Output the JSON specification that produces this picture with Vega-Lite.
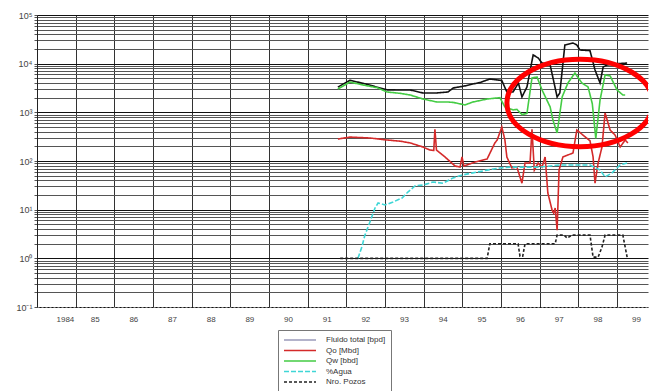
{
  "$schema": "https://vega.github.io/schema/vega-lite/v6.json",
  "width": 611,
  "height": 292,
  "autosize": "none",
  "padding": {"left": 37, "top": 15, "right": 2, "bottom": 84},
  "background": "white",
  "config": {"view": {"stroke": null}, "font": "Liberation Sans"},
  "datasets": {
    "series": [
      {"series": "Fluido total [bpd]", "year": 1991.78, "value": 3300},
      {"series": "Fluido total [bpd]", "year": 1992.09, "value": 4550},
      {"series": "Fluido total [bpd]", "year": 1992.43, "value": 3950},
      {"series": "Fluido total [bpd]", "year": 1993.05, "value": 2900},
      {"series": "Fluido total [bpd]", "year": 1993.40, "value": 2880},
      {"series": "Fluido total [bpd]", "year": 1993.65, "value": 2880},
      {"series": "Fluido total [bpd]", "year": 1993.98, "value": 2500},
      {"series": "Fluido total [bpd]", "year": 1994.34, "value": 2500},
      {"series": "Fluido total [bpd]", "year": 1994.63, "value": 2620},
      {"series": "Fluido total [bpd]", "year": 1994.76, "value": 3160},
      {"series": "Fluido total [bpd]", "year": 1995.07, "value": 3500},
      {"series": "Fluido total [bpd]", "year": 1995.27, "value": 3820},
      {"series": "Fluido total [bpd]", "year": 1995.46, "value": 4100},
      {"series": "Fluido total [bpd]", "year": 1995.71, "value": 4840},
      {"series": "Fluido total [bpd]", "year": 1995.84, "value": 4700},
      {"series": "Fluido total [bpd]", "year": 1996.02, "value": 4500},
      {"series": "Fluido total [bpd]", "year": 1996.15, "value": 2620},
      {"series": "Fluido total [bpd]", "year": 1996.31, "value": 2620},
      {"series": "Fluido total [bpd]", "year": 1996.45, "value": 4010},
      {"series": "Fluido total [bpd]", "year": 1996.54, "value": 2070},
      {"series": "Fluido total [bpd]", "year": 1996.67, "value": 3320},
      {"series": "Fluido total [bpd]", "year": 1996.83, "value": 15100},
      {"series": "Fluido total [bpd]", "year": 1996.96, "value": 13100},
      {"series": "Fluido total [bpd]", "year": 1997.06, "value": 10300},
      {"series": "Fluido total [bpd]", "year": 1997.27, "value": 9400},
      {"series": "Fluido total [bpd]", "year": 1997.45, "value": 2070},
      {"series": "Fluido total [bpd]", "year": 1997.52, "value": 2500},
      {"series": "Fluido total [bpd]", "year": 1997.65, "value": 24200},
      {"series": "Fluido total [bpd]", "year": 1997.86, "value": 26600},
      {"series": "Fluido total [bpd]", "year": 1997.96, "value": 24200},
      {"series": "Fluido total [bpd]", "year": 1998.04, "value": 19100},
      {"series": "Fluido total [bpd]", "year": 1998.30, "value": 18500},
      {"series": "Fluido total [bpd]", "year": 1998.43, "value": 7420},
      {"series": "Fluido total [bpd]", "year": 1998.56, "value": 4010},
      {"series": "Fluido total [bpd]", "year": 1998.64, "value": 8550},
      {"series": "Fluido total [bpd]", "year": 1998.74, "value": 9400},
      {"series": "Fluido total [bpd]", "year": 1999.00, "value": 10000},
      {"series": "Fluido total [bpd]", "year": 1999.26, "value": 10300},

      {"series": "Qo [Mbd]", "year": 1991.78, "value": 283},
      {"series": "Qo [Mbd]", "year": 1992.09, "value": 310},
      {"series": "Qo [Mbd]", "year": 1992.61, "value": 297},
      {"series": "Qo [Mbd]", "year": 1993.05, "value": 270},
      {"series": "Qo [Mbd]", "year": 1993.40, "value": 255},
      {"series": "Qo [Mbd]", "year": 1993.65, "value": 235},
      {"series": "Qo [Mbd]", "year": 1993.98, "value": 194},
      {"series": "Qo [Mbd]", "year": 1994.16, "value": 168},
      {"series": "Qo [Mbd]", "year": 1994.26, "value": 165},
      {"series": "Qo [Mbd]", "year": 1994.29, "value": 450},
      {"series": "Qo [Mbd]", "year": 1994.33, "value": 168},
      {"series": "Qo [Mbd]", "year": 1994.55, "value": 121},
      {"series": "Qo [Mbd]", "year": 1994.81, "value": 79},
      {"series": "Qo [Mbd]", "year": 1994.94, "value": 75},
      {"series": "Qo [Mbd]", "year": 1994.99, "value": 121},
      {"series": "Qo [Mbd]", "year": 1995.04, "value": 79},
      {"series": "Qo [Mbd]", "year": 1995.33, "value": 95},
      {"series": "Qo [Mbd]", "year": 1995.64, "value": 110},
      {"series": "Qo [Mbd]", "year": 1995.84, "value": 235},
      {"series": "Qo [Mbd]", "year": 1995.90, "value": 270},
      {"series": "Qo [Mbd]", "year": 1996.02, "value": 500},
      {"series": "Qo [Mbd]", "year": 1996.10, "value": 270},
      {"series": "Qo [Mbd]", "year": 1996.15, "value": 121},
      {"series": "Qo [Mbd]", "year": 1996.28, "value": 72},
      {"series": "Qo [Mbd]", "year": 1996.41, "value": 75},
      {"series": "Qo [Mbd]", "year": 1996.54, "value": 35},
      {"series": "Qo [Mbd]", "year": 1996.62, "value": 91},
      {"series": "Qo [Mbd]", "year": 1996.75, "value": 91},
      {"series": "Qo [Mbd]", "year": 1996.80, "value": 450},
      {"series": "Qo [Mbd]", "year": 1996.86, "value": 65},
      {"series": "Qo [Mbd]", "year": 1996.96, "value": 91},
      {"series": "Qo [Mbd]", "year": 1997.06, "value": 75},
      {"series": "Qo [Mbd]", "year": 1997.14, "value": 121},
      {"series": "Qo [Mbd]", "year": 1997.21, "value": 22},
      {"series": "Qo [Mbd]", "year": 1997.32, "value": 9.8},
      {"series": "Qo [Mbd]", "year": 1997.36, "value": 8.5},
      {"series": "Qo [Mbd]", "year": 1997.40, "value": 10.8},
      {"series": "Qo [Mbd]", "year": 1997.45, "value": 3.8},
      {"series": "Qo [Mbd]", "year": 1997.50, "value": 65},
      {"series": "Qo [Mbd]", "year": 1997.60, "value": 121},
      {"series": "Qo [Mbd]", "year": 1997.86, "value": 146},
      {"series": "Qo [Mbd]", "year": 1997.96, "value": 434},
      {"series": "Qo [Mbd]", "year": 1998.12, "value": 340},
      {"series": "Qo [Mbd]", "year": 1998.30, "value": 260},
      {"series": "Qo [Mbd]", "year": 1998.38, "value": 121},
      {"series": "Qo [Mbd]", "year": 1998.43, "value": 35},
      {"series": "Qo [Mbd]", "year": 1998.51, "value": 91},
      {"series": "Qo [Mbd]", "year": 1998.61, "value": 194},
      {"series": "Qo [Mbd]", "year": 1998.69, "value": 970},
      {"series": "Qo [Mbd]", "year": 1998.82, "value": 434},
      {"series": "Qo [Mbd]", "year": 1998.95, "value": 340},
      {"series": "Qo [Mbd]", "year": 1999.08, "value": 194},
      {"series": "Qo [Mbd]", "year": 1999.21, "value": 270},
      {"series": "Qo [Mbd]", "year": 1999.28, "value": 235},

      {"series": "Qw [bbd]", "year": 1991.78, "value": 3020},
      {"series": "Qw [bbd]", "year": 1992.09, "value": 4200},
      {"series": "Qw [bbd]", "year": 1992.43, "value": 3650},
      {"series": "Qw [bbd]", "year": 1992.80, "value": 3200},
      {"series": "Qw [bbd]", "year": 1993.05, "value": 2620},
      {"series": "Qw [bbd]", "year": 1993.40, "value": 2450},
      {"series": "Qw [bbd]", "year": 1993.65, "value": 2270},
      {"series": "Qw [bbd]", "year": 1993.98, "value": 1880},
      {"series": "Qw [bbd]", "year": 1994.34, "value": 1630},
      {"series": "Qw [bbd]", "year": 1994.63, "value": 1630},
      {"series": "Qw [bbd]", "year": 1994.76, "value": 1600},
      {"series": "Qw [bbd]", "year": 1995.07, "value": 1420},
      {"series": "Qw [bbd]", "year": 1995.27, "value": 1630},
      {"series": "Qw [bbd]", "year": 1995.46, "value": 1750},
      {"series": "Qw [bbd]", "year": 1995.64, "value": 1880},
      {"series": "Qw [bbd]", "year": 1995.97, "value": 2000},
      {"series": "Qw [bbd]", "year": 1996.10, "value": 1290},
      {"series": "Qw [bbd]", "year": 1996.31, "value": 1120},
      {"series": "Qw [bbd]", "year": 1996.41, "value": 1150},
      {"series": "Qw [bbd]", "year": 1996.54, "value": 900},
      {"series": "Qw [bbd]", "year": 1996.67, "value": 950},
      {"series": "Qw [bbd]", "year": 1996.80, "value": 5080},
      {"series": "Qw [bbd]", "year": 1996.93, "value": 5320},
      {"series": "Qw [bbd]", "year": 1997.06, "value": 2880},
      {"series": "Qw [bbd]", "year": 1997.27, "value": 1290},
      {"series": "Qw [bbd]", "year": 1997.34, "value": 700},
      {"series": "Qw [bbd]", "year": 1997.45, "value": 377},
      {"series": "Qw [bbd]", "year": 1997.58, "value": 2070},
      {"series": "Qw [bbd]", "year": 1997.73, "value": 4010},
      {"series": "Qw [bbd]", "year": 1997.91, "value": 6430},
      {"series": "Qw [bbd]", "year": 1998.09, "value": 4010},
      {"series": "Qw [bbd]", "year": 1998.25, "value": 3320},
      {"series": "Qw [bbd]", "year": 1998.36, "value": 1500},
      {"series": "Qw [bbd]", "year": 1998.45, "value": 290},
      {"series": "Qw [bbd]", "year": 1998.56, "value": 1790},
      {"series": "Qw [bbd]", "year": 1998.69, "value": 5850},
      {"series": "Qw [bbd]", "year": 1998.82, "value": 5600},
      {"series": "Qw [bbd]", "year": 1999.00, "value": 2880},
      {"series": "Qw [bbd]", "year": 1999.15, "value": 2270},
      {"series": "Qw [bbd]", "year": 1999.21, "value": 2270},

      {"series": "%Agua", "year": 1992.30, "value": 1.0},
      {"series": "%Agua", "year": 1992.40, "value": 1.71},
      {"series": "%Agua", "year": 1992.48, "value": 3.0},
      {"series": "%Agua", "year": 1992.61, "value": 5.6},
      {"series": "%Agua", "year": 1992.74, "value": 10.8},
      {"series": "%Agua", "year": 1992.82, "value": 13.7},
      {"series": "%Agua", "year": 1993.00, "value": 12.5},
      {"series": "%Agua", "year": 1993.21, "value": 14.4},
      {"series": "%Agua", "year": 1993.44, "value": 17.4},
      {"series": "%Agua", "year": 1993.59, "value": 23},
      {"series": "%Agua", "year": 1993.78, "value": 31},
      {"series": "%Agua", "year": 1993.98, "value": 32},
      {"series": "%Agua", "year": 1994.24, "value": 37},
      {"series": "%Agua", "year": 1994.50, "value": 35},
      {"series": "%Agua", "year": 1994.76, "value": 45},
      {"series": "%Agua", "year": 1995.02, "value": 52},
      {"series": "%Agua", "year": 1995.27, "value": 57},
      {"series": "%Agua", "year": 1995.64, "value": 65},
      {"series": "%Agua", "year": 1995.97, "value": 72},
      {"series": "%Agua", "year": 1996.23, "value": 75},
      {"series": "%Agua", "year": 1997.01, "value": 75},
      {"series": "%Agua", "year": 1997.52, "value": 83},
      {"series": "%Agua", "year": 1998.30, "value": 83},
      {"series": "%Agua", "year": 1998.56, "value": 65},
      {"series": "%Agua", "year": 1998.69, "value": 47},
      {"series": "%Agua", "year": 1998.87, "value": 57},
      {"series": "%Agua", "year": 1999.08, "value": 83},
      {"series": "%Agua", "year": 1999.26, "value": 91},

      {"series": "Nro. Pozos", "year": 1991.84, "value": 1},
      {"series": "Nro. Pozos", "year": 1995.64, "value": 1},
      {"series": "Nro. Pozos", "year": 1995.71, "value": 2},
      {"series": "Nro. Pozos", "year": 1996.44, "value": 2},
      {"series": "Nro. Pozos", "year": 1996.49, "value": 1.1},
      {"series": "Nro. Pozos", "year": 1996.56, "value": 1.1},
      {"series": "Nro. Pozos", "year": 1996.62, "value": 2},
      {"series": "Nro. Pozos", "year": 1997.40, "value": 2},
      {"series": "Nro. Pozos", "year": 1997.45, "value": 3},
      {"series": "Nro. Pozos", "year": 1997.63, "value": 3},
      {"series": "Nro. Pozos", "year": 1997.71, "value": 2.6},
      {"series": "Nro. Pozos", "year": 1997.83, "value": 3},
      {"series": "Nro. Pozos", "year": 1998.30, "value": 3},
      {"series": "Nro. Pozos", "year": 1998.38, "value": 1.06},
      {"series": "Nro. Pozos", "year": 1998.51, "value": 1.06},
      {"series": "Nro. Pozos", "year": 1998.61, "value": 1.7},
      {"series": "Nro. Pozos", "year": 1998.69, "value": 3},
      {"series": "Nro. Pozos", "year": 1999.15, "value": 3},
      {"series": "Nro. Pozos", "year": 1999.26, "value": 1.06}
    ],
    "annot": [
      {"year": 1998.04, "value": 1556}
    ]
  },
  "layer": [
    {
      "data": {"name": "series"},
      "mark": {"type": "line", "strokeWidth": 1.6, "clip": true},
      "encoding": {
        "x": {
          "field": "year", "type": "quantitative",
          "scale": {"domain": [1984, 1999.8], "nice": false, "zero": false},
          "axis": {
            "title": null,
            "values": [1984,1985,1986,1987,1988,1989,1990,1991,1992,1993,1994,1995,1996,1997,1998,1999],
            "labelExpr": "datum.value == 1984 ? '1984' : substring(toString(datum.value), 2, 4)",
            "labelOffset": 19,
            "labelOverlap": false,
            "labelBound": false,
            "labelFontSize": 8,
            "labelColor": "#444",
            "labelPadding": 8,
            "ticks": false,
            "grid": true,
            "gridColor": "#333",
            "gridWidth": 1,
            "domainColor": "#888",
            "domainDash": [2, 2]
          }
        },
        "y": {
          "field": "value", "type": "quantitative",
          "scale": {"type": "log", "domain": [0.1, 100000], "nice": false},
          "axis": {
            "title": null,
            "values": [0.1,0.2,0.3,0.4,0.5,0.6,0.7,0.8,0.9,1,2,3,4,5,6,7,8,9,10,20,30,40,50,60,70,80,90,100,200,300,400,500,600,700,800,900,1000,2000,3000,4000,5000,6000,7000,8000,9000,10000,20000,30000,40000,50000,60000,70000,80000,90000,100000],
            "labelExpr": "datum.value == 100000 ? '10⁵' : datum.value == 10000 ? '10⁴' : datum.value == 1000 ? '10³' : datum.value == 100 ? '10²' : datum.value == 10 ? '10¹' : datum.value == 1 ? '10⁰' : datum.value == 0.1 ? '10⁻¹' : ''",
            "labelOverlap": false,
            "labelBound": false,
            "labelFontSize": 9,
            "labelColor": "#444",
            "labelPadding": 2,
            "tickSize": 3,
            "tickColor": "#555",
            "grid": true,
            "gridColor": {"condition": {"test": "abs(log(datum.value)/LN10 - round(log(datum.value)/LN10)) < 0.000001", "value": "#111"}, "value": "#555"},
            "gridWidth": 1,
            "domainColor": "#222"
          }
        },
        "color": {
          "condition": {"test": "datum.series == 'Fluido total [bpd]'", "value": "#111111"},
          "field": "series", "type": "nominal",
          "scale": {
            "domain": ["Fluido total [bpd]", "Qo [Mbd]", "Qw [bbd]", "%Agua", "Nro. Pozos"],
            "range": ["#9a9abb", "#d42a2a", "#44cc44", "#3fd6d6", "#222222"]
          },
          "legend": {
            "title": null,
            "orient": "none",
            "legendX": 241,
            "legendY": 315,
            "strokeColor": "#777",
            "fillColor": "white",
            "padding": 5,
            "symbolType": "M -4 0 L 4 0",
            "symbolSize": 64,
            "symbolOffset": 12,
            "symbolStrokeWidth": 1.6,
            "labelFontSize": 8,
            "labelColor": "#333",
            "labelOffset": 21,
            "rowPadding": 1.5
          }
        },
        "strokeDash": {
          "field": "series", "type": "nominal",
          "scale": {
            "domain": ["Fluido total [bpd]", "Qo [Mbd]", "Qw [bbd]", "%Agua", "Nro. Pozos"],
            "range": [[1, 0], [1, 0], [1, 0], [5, 2], [3, 2]]
          },
          "legend": null
        }
      }
    },
    {
      "data": {"name": "annot"},
      "mark": {
        "type": "point",
        "shape": "M -1 0 A 1 0.6 0 1 0 1 0 A 1 0.6 0 1 0 -1 0 Z",
        "filled": false,
        "stroke": "#ff0000",
        "strokeWidth": 5,
        "size": 21316,
        "opacity": 1,
        "clip": true
      },
      "encoding": {
        "x": {"field": "year", "type": "quantitative"},
        "y": {"field": "value", "type": "quantitative"}
      }
    }
  ]
}
